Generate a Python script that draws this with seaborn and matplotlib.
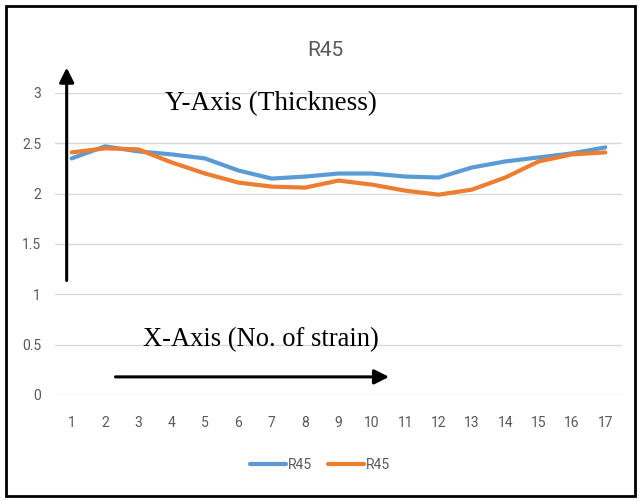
import matplotlib
matplotlib.use("Agg")
import matplotlib.pyplot as plt
from matplotlib.patches import Rectangle
import numpy as np
import pandas as pd
import seaborn as sns

# Thickness measured at each strain step, two R45 runs
strain = list(range(1, 18))
r45_run1 = [2.35, 2.47, 2.42, 2.39, 2.35, 2.23, 2.15, 2.17, 2.20, 2.20,
            2.17, 2.16, 2.26, 2.32, 2.36, 2.40, 2.46]
r45_run2 = [2.41, 2.45, 2.44, 2.31, 2.20, 2.11, 2.07, 2.06, 2.13, 2.09,
            2.03, 1.99, 2.04, 2.16, 2.32, 2.39, 2.41]
series_labels = ["R45", "R45"]
series_colors = ["#5B9BD5", "#ED7D31"]
y_ticks = [0, 0.5, 1, 1.5, 2, 2.5, 3]
y_tick_labels = ["0", "0.5", "1", "1.5", "2", "2.5", "3"]

sns.set_theme(style="white")
narrow = ["Roboto", "DejaVu Sans"]
serif = ["Liberation Serif", "DejaVu Serif"]
plt.rcParams["font.family"] = narrow

fig = plt.figure(figsize=(6.4, 5.01), dpi=100)
ax = fig.add_axes([55 / 640, 1 - 395 / 501, (622 - 55) / 640, (395 - 93) / 501])

df = pd.DataFrame({"strain": strain, "run1": r45_run1, "run2": r45_run2})
for col, lab, colr in zip(["run1", "run2"], series_labels, series_colors):
    sns.lineplot(data=df, x="strain", y=col, ax=ax, color=colr, linewidth=3.0,
                 label=lab, legend=False, solid_capstyle="round")

ax.set_xlim(0.5, 17.5)
ax.set_ylim(0, 3)
ax.set_xticks(strain)
ax.set_xticklabels([str(s) for s in strain])
ax.set_yticks(y_ticks)
ax.set_yticklabels(y_tick_labels)
ax.set_xlabel("")
ax.set_ylabel("")
ax.grid(axis="y", color="#D9D9D9", linewidth=1.0)
ax.grid(axis="x", visible=False)
for sp in ax.spines.values():
    sp.set_visible(False)
ax.tick_params(axis="both", length=0, labelsize=10, labelcolor="#595959")
ax.tick_params(axis="x", pad=15)
ax.tick_params(axis="y", pad=10)

fig.text(325 / 640, 1 - 50 / 501, "R45", ha="center", va="center",
         fontsize=15, color="#595959")

# Axis direction arrows and their captions
ax.annotate("", xy=(0.85, 3.28), xytext=(0.85, 1.11),
            arrowprops=dict(arrowstyle="-|>", color="black", lw=2.2,
                            mutation_scale=22),
            annotation_clip=False)
ax.annotate("", xy=(10.6, 0.18), xytext=(2.23, 0.18),
            arrowprops=dict(arrowstyle="-|>", color="black", lw=2.2,
                            mutation_scale=22),
            annotation_clip=False)
fig.text(165 / 640, 1 - 104 / 501, "Y-Axis (Thickness)", ha="left", va="center",
         fontsize=19.5, family=serif, color="black")
fig.text(143 / 640, 1 - 340 / 501, "X-Axis (No. of strain)", ha="left", va="center",
         fontsize=19.1, family=serif, color="black")

handles, labels = ax.get_legend_handles_labels()
fig.legend(handles, labels, loc="center", bbox_to_anchor=(320 / 640, 1 - 465 / 501),
           ncol=2, frameon=False, fontsize=10, handlelength=2.6,
           columnspacing=1.2, handletextpad=0.1, labelcolor="#595959")

fig.patches.append(Rectangle((6 / 640, 5 / 501), 629 / 640, 490 / 501,
                             transform=fig.transFigure, fill=False,
                             edgecolor="black", linewidth=2))

fig.savefig("out.png", dpi=100)
